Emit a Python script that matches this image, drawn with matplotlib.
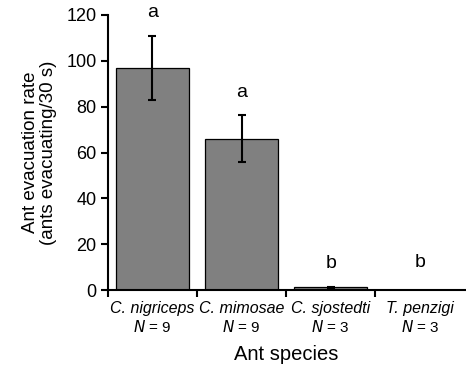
import matplotlib
matplotlib.use("Agg")
import matplotlib.pyplot as plt
import matplotlib.transforms as mtransforms

plt.rcParams["font.family"] = ["Liberation Sans", "DejaVu Sans"]

species = ["C. nigriceps", "C. mimosae", "C. sjostedti", "T. penzigi"]
n_labels = ["9", "9", "3", "3"]
means = [97.0, 66.0, 1.3, 0.0]
errors = [14.0, 10.3, 0.3, 0.0]
letters = ["a", "a", "b", "b"]

fig = plt.figure(figsize=(4.66, 3.65), dpi=100)
ax = fig.add_axes([0.231, 0.205, 0.766, 0.754])

x = list(range(len(species)))
ax.bar(x, means, width=0.82, color="#808080", edgecolor="black", linewidth=0.9, zorder=2)
for xi, m, e in zip(x, means, errors):
    if e > 0:
        ax.errorbar(xi, m, yerr=e, fmt="none", ecolor="black", elinewidth=1.5,
                    capsize=3, capthick=1.5, zorder=3)

# significance letters
for xi, m, e, lab in zip(x, means, errors, letters):
    y = m + e + 10 if m > 0 else 12
    ax.text(xi, y, lab, ha="center", va="center", fontsize=14, clip_on=False)

ax.set_xlim(-0.5, 3.5)
ax.set_ylim(0, 120)
ax.set_yticks(range(0, 121, 20))
ax.tick_params(axis="y", labelsize=13, direction="out", length=5, width=1.5, pad=3)

ax.set_xticks([])
ax.set_xticks([-0.5, 0.5, 1.5, 2.5], minor=True)
ax.tick_params(axis="x", which="minor", direction="out", length=5, width=1.5, labelbottom=False)

for s in ["top", "right"]:
    ax.spines[s].set_visible(False)
ax.spines["left"].set_linewidth(1.5)
ax.spines["bottom"].set_linewidth(1.5)

trans = mtransforms.blended_transform_factory(ax.transData, ax.transAxes)
for xi, sp, n in zip(x, species, n_labels):
    ax.text(xi, -0.068, sp, transform=trans, ha="center", va="center",
            fontsize=11.5, style="italic")
    ax.text(xi, -0.133, r"$\it{N}$ = " + n, transform=trans, ha="center", va="center",
            fontsize=11)

ax.text(0.5, -0.233, "Ant species", transform=ax.transAxes, ha="center", va="center",
        fontsize=14.5)
ax.set_ylabel("Ant evacuation rate\n(ants evacuating/30 s)", fontsize=13.5, labelpad=7,
              linespacing=1.05)

fig.savefig("out.png", dpi=100)
